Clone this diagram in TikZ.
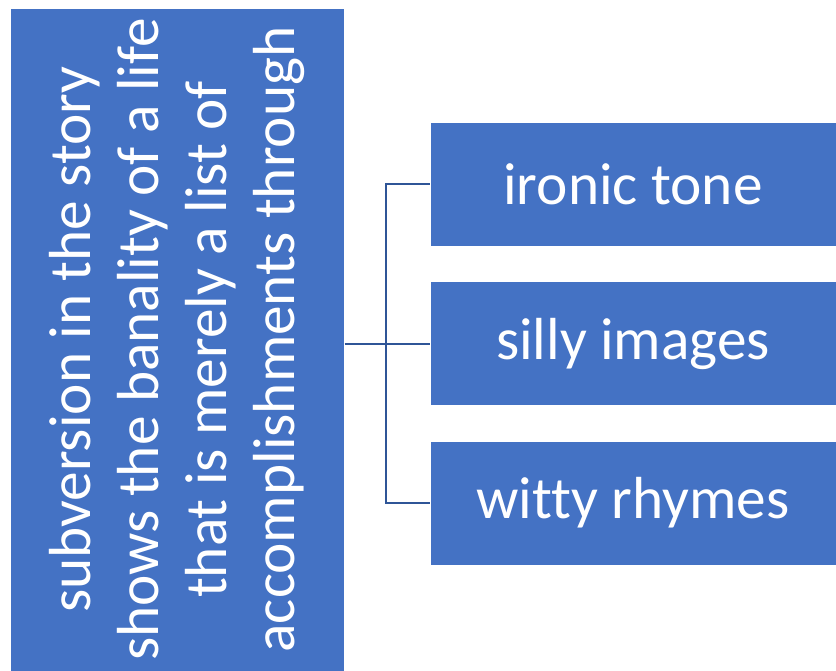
\documentclass[tikz,border=0pt]{standalone}
\usepackage{fontspec}
\setmainfont{Carlito}[Ligatures=NoCommon]
\usepackage{tikz}
\usetikzlibrary{calc,positioning}
\definecolor{boxblue}{HTML}{4472C4}
\definecolor{lineblue}{HTML}{2F5597}
\tikzset{
    bigbox/.style={draw=white, line width=0.75pt, fill=boxblue, text=white, inner sep=0pt,
        font=\fontsize{44.5}{51}\selectfont},
    itembox/.style={bigbox, minimum width=304.5pt, minimum height=93pt},
    link/.style={draw=lineblue, line width=1.5pt},
}

\begin{document}
\begin{tikzpicture}[x=0.75pt,y=-0.75pt]
   \useasboundingbox (0,0) rectangle (836,671);
   \node[bigbox, rotate=90, minimum width=497.25pt, minimum height=250.5pt, align=center] (cause) at (177,339.5)
      {subversion in the story\\shows the banality of a life\\that is merely a list of\\accomplishments through};
   \node[itembox] (ironic) at (633,184)   {ironic tone};
   \node[itembox] (silly)  at (633,343.5) {silly images};
   \node[itembox] (witty)  at (633,503)   {witty rhymes};
   \coordinate (split) at (386,343.5);
    \path[link]
    (cause.south |- split) -- (split)
    (split) -- (silly.west)
    (split) |- (ironic.west)
    (split) |- (witty.west);
\end{tikzpicture}
\end{document}
